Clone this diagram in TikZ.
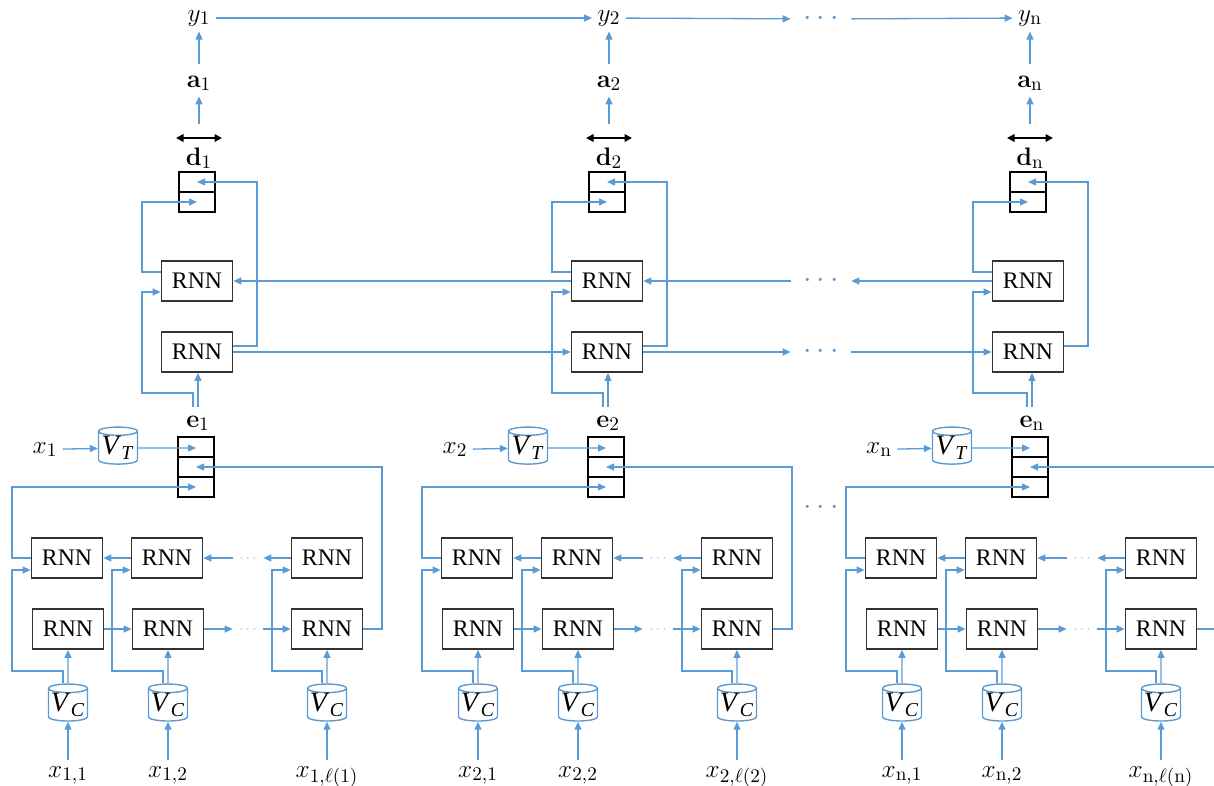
\documentclass[tikz,border=0pt]{standalone}
\usepackage[no-math]{fontspec}
\setmainfont{Liberation Serif}
\usetikzlibrary{arrows.meta,shapes.geometric}
\definecolor{lineblue}{RGB}{91,155,213}
\tikzset{
  arr/.style={-{Triangle[length=1.6mm,width=1.4mm]}, draw=lineblue, line width=0.75pt},
  widtharr/.style={{Triangle[length=1.5mm,width=1.5mm]}-{Triangle[length=1.5mm,width=1.5mm]}, line width=1.1pt},
  rnn/.style={draw=black!80, line width=1pt, fill=white, minimum width=1.42cm, minimum height=0.8cm, inner sep=0pt, font=\fontsize{13.5}{15}\selectfont},
  cell/.style={draw=black, line width=1.2pt, minimum width=0.72cm, minimum height=0.4cm, inner sep=0pt},
  lbl/.style={inner sep=3pt, anchor=base, font=\fontsize{15}{18}\selectfont},
  cyl/.style={cylinder, shape border rotate=90, draw=lineblue, line width=0.8pt, fill=white, minimum width=0.78cm, minimum height=0.74cm, aspect=0.25, inner sep=0pt, font=\fontsize{16}{18}\selectfont},
  bigdots/.style={text=lineblue, minimum width=1.2cm, inner sep=0pt, text height=7pt, text depth=0pt, font=\fontsize{17}{18}\selectfont},
  smalldots/.style={text=lineblue!80, minimum width=0.6cm, inner sep=0pt, text height=3.5pt, text depth=0pt, font=\fontsize{7}{8}\selectfont}
}

\begin{document}
\begin{tikzpicture}[x=0.02cm, y=-0.02cm]
  \useasboundingbox (0,0) rectangle (1214,785);
  \clip (0,0) rectangle (1214,785);
  \foreach \c/\ot/\ob/\s in {1/0/0/1, 2/410/410/2, n/831/834/\mathrm{n}} {
    % outputs and decoder states
    \node[lbl] (y\c) at (199+\ot,21) {$y_{\s}$};
    \node[lbl] (a\c) at (199+\ot,87) {$\mathbf{a}_{\s}$};
    \node[lbl] (dd\c) at (199+\ot,165) {$\mathbf{d}_{\s}$};
    \node[cell] (dt\c) at (197+\ot,182) {};
    \node[cell] (db\c) at (197+\ot,202) {};
    \draw[widtharr] (176+\ot,138) -- (222+\ot,138);
    % sentence level RNNs
    \node[rnn] (ru\c) at (197+\ot,281) {RNN};
    \node[rnn] (rl\c) at (197+\ot,352) {RNN};
    % word embedding
    \node[lbl] (ee\c) at (198+\ob,427) {$\mathbf{e}_{\s}$};
    \coordinate (eo\c) at (198+\ob,407);
    \node[cell] (et\c) at (196+\ob,447) {};
    \node[cell] (em\c) at (196+\ob,467) {};
    \node[cell] (eb\c) at (196+\ob,487) {};
    \node[lbl] (x\c) at (45+\ob,453) {$x_{\s}$};
    \node[cyl] (vt\c) at (118+\ob,448) {\textit{V}\textsubscript{\textit{T}}};
    % character level RNNs
    \node[rnn] (ta\c) at (67+\ob,558) {RNN};
    \node[rnn] (tb\c) at (167+\ob,558) {RNN};
    \node[rnn] (tc\c) at (327+\ob,558) {RNN};
    \node[rnn] (ba\c) at (68+\ob,629) {RNN};
    \node[rnn] (bb\c) at (168+\ob,629) {RNN};
    \node[rnn] (bc\c) at (327+\ob,629) {RNN};
    \node[smalldots] (sd\c) at (248+\ob,558) {$\cdots$};
    \node[smalldots] (sl\c) at (248+\ob,629) {$\cdots$};
    \node[cyl] (va\c) at (68+\ob,705) {\textit{V}\textsubscript{\textit{C}}};
    \node[cyl] (vb\c) at (168+\ob,705) {\textit{V}\textsubscript{\textit{C}}};
    \node[cyl] (vc\c) at (327+\ob,705) {\textit{V}\textsubscript{\textit{C}}};
    \node[lbl] (xa\c) at (68+\ob,777) {$x_{\s,1}$};
    \node[lbl] (xb\c) at (168+\ob,777) {$x_{\s,2}$};
    \node[lbl] (xc\c) at (327+\ob,777) {$x_{\s,\ell(\s)}$};
    % arrows, top
    \draw[arr, shorten <=1.2mm] (a\c) -- (y\c);
    \draw[arr] (dd\c.north) ++(0,-18) -- (a\c);
    \draw[arr] ([yshift=1.2mm]rl\c.east) -| (257+\ot,182) -- (dt\c.center);
    \draw[arr] ([yshift=1.8mm]ru\c.west) -| (142+\ot,202) -- (db\c.center);
    \draw[arr] ([xshift=-1mm]eo\c) |- (142+\ot,393) |- ([yshift=-2.2mm]ru\c.west);
    \draw[arr] (eo\c) -- (eo\c |- rl\c.south);
    % arrows, bottom
    \draw[arr] (x\c) -- (vt\c);
    \draw[arr] (vt\c) -- (vt\c -| et\c.center);
    \draw[arr] (ta\c.west) -| (12+\ob,487) -- (eb\c.center);
    \draw[arr] (bc\c.east) -| (382+\ob,467) -- (em\c.center);
    \draw[arr] (tb\c) -- (ta\c);
    \draw[arr] (sd\c) -- (tb\c);
    \draw[arr] (tc\c) -- (sd\c);
    \draw[arr] (ba\c) -- (bb\c);
    \draw[arr] (bb\c) -- (sl\c);
    \draw[arr] (sl\c) -- (bc\c);
    \draw[arr] (xa\c) -- (va\c);
    \draw[arr] (xb\c) -- (vb\c);
    \draw[arr] (xc\c) -- (vc\c);
    \draw[arr] (va\c) -- (ba\c);
    \draw[arr] (vb\c) -- (bb\c);
    \draw[arr] (vc\c) -- (bc\c);
    \draw[arr] ([xshift=-1mm]va\c.north) |- (12+\ob,671) |- ([yshift=-2.4mm]ta\c.west);
    \draw[arr] ([xshift=-1mm]vb\c.north) |- (112+\ob,671) |- ([yshift=-2.4mm]tb\c.west);
    \draw[arr] ([xshift=-1mm]vc\c.north) |- (272+\ob,671) |- ([yshift=-2.4mm]tc\c.west);
  }
  % dots between columns
  \node[bigdots] (dotsy) at (821,19) {$\cdots$};
  \node[bigdots] (dotsu) at (821,281) {$\cdots$};
  \node[bigdots] (dotsl) at (821,352) {$\cdots$};
  \node[bigdots] (dotsm) at (821,508) {$\cdots$};
  % links between columns
  \draw[arr] (y1) -- (y2);
  \draw[arr] (y2) -- (dotsy);
  \draw[arr] (dotsy) -- (yn);
  \draw[arr] (ru2) -- (ru1);
  \draw[arr] (dotsu) -- (ru2);
  \draw[arr] (run) -- (dotsu);
  \draw[arr] (rl1) -- (rl2);
  \draw[arr] (rl2) -- (dotsl);
  \draw[arr] (dotsl) -- (rln);
\end{tikzpicture}
\end{document}
